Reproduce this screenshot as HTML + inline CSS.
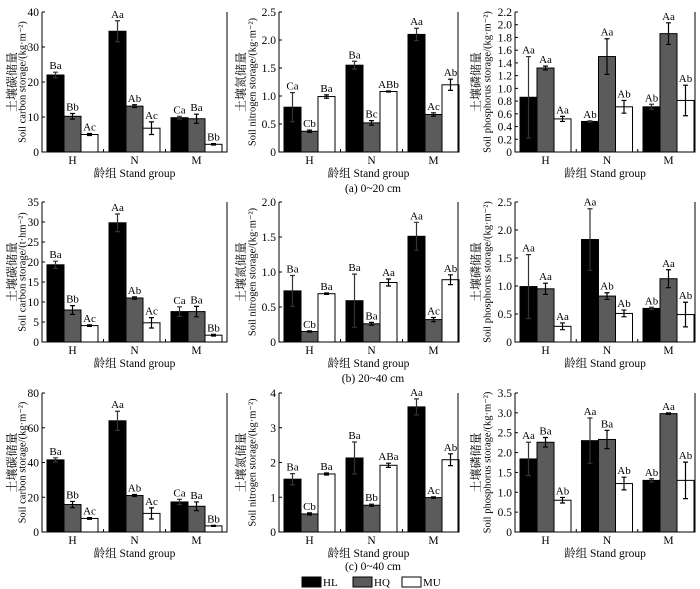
<!DOCTYPE html>
<html><head><meta charset="utf-8">
<style>
html,body{margin:0;padding:0;background:#fff;}
svg{display:block;font-family:"Liberation Serif","Noto Serif CJK SC",serif;}
</style></head>
<body>
<svg id="chart" width="700" height="589" viewBox="0 0 700 589" xmlns="http://www.w3.org/2000/svg"></svg>
<script>
const categories=["H","N","M"];
const seriesNames=["HL","HQ","MU"];
// Row a: 0~20 cm
const aC_HL=[22,34.5,9.8], aC_HLerr=[0.8,3,0.4];
const aC_HQ=[10.2,13.1,9.5], aC_HQerr=[0.8,0.4,1.3];
const aC_MU=[5,6.8,2.2], aC_MUerr=[0.3,1.8,0.2];
const aC_lab=[["Ba","Aa","Ca"],["Bb","Ab","Ba"],["Ac","Ac","Bb"]];
const aC_ticks=["0","10","20","30","40"];
const aN_HL=[0.8,1.55,2.1], aN_HLerr=[0.26,0.07,0.11];
const aN_HQ=[0.37,0.52,0.67], aN_HQerr=[0.02,0.04,0.03];
const aN_MU=[0.99,1.08,1.2], aN_MUerr=[0.03,0.01,0.1];
const aN_lab=[["Ca","Ba","Aa"],["Cb","Bc","Ac"],["Ba","ABb","Ab"]];
const aN_ticks=["0","0.5","1.0","1.5","2.0","2.5"];
const aP_HL=[0.86,0.48,0.71], aP_HLerr=[0.64,0.01,0.04];
const aP_HQ=[1.32,1.5,1.86], aP_HQerr=[0.03,0.28,0.17];
const aP_MU=[0.52,0.71,0.81], aP_MUerr=[0.04,0.1,0.24];
const aP_lab=[["Aa","Ab","Ab"],["Aa","Aa","Aa"],["Aa","Ab","Ab"]];
const aP_ticks=["0","0.2","0.4","0.6","0.8","1.0","1.2","1.4","1.6","1.8","2.0","2.2"];
// Row b: 20~40 cm
const bC_HL=[19.3,29.8,7.6], bC_HLerr=[0.9,2.2,1.2];
const bC_HQ=[8,11,7.6], bC_HQerr=[1.1,0.3,1.3];
const bC_MU=[4.1,4.8,1.7], bC_MUerr=[0.2,1.3,0.2];
const bC_lab=[["Ba","Aa","Ca"],["Bb","Ab","Ba"],["Ac","Ac","Bb"]];
const bC_ticks=["0","5","10","15","20","25","30","35"];
const bN_HL=[0.73,0.59,1.51], bN_HLerr=[0.22,0.38,0.2];
const bN_HQ=[0.15,0.26,0.32], bN_HQerr=[0.01,0.02,0.03];
const bN_MU=[0.69,0.85,0.89], bN_MUerr=[0.01,0.05,0.07];
const bN_lab=[["Ba","Ba","Aa"],["Cb","Ba","Ac"],["Ba","Aa","Ab"]];
const bN_ticks=["0","0.5","1.0","1.5","2.0"];
const bP_HL=[0.99,1.83,0.6], bP_HLerr=[0.57,0.55,0.02];
const bP_HQ=[0.95,0.82,1.13], bP_HQerr=[0.1,0.06,0.16];
const bP_MU=[0.28,0.51,0.49], bP_MUerr=[0.06,0.06,0.22];
const bP_lab=[["Aa","Aa","Ab"],["Aa","Ab","Aa"],["Aa","Ab","Ab"]];
const bP_ticks=["0","0.5","1.0","1.5","2.0","2.5"];
// Row c: 0~40 cm
const cC_HL=[41.5,64,17.3], cC_HLerr=[1.2,5.5,1.5];
const cC_HQ=[15.8,21,14.8], cC_HQerr=[1.8,0.6,2.5];
const cC_MU=[7.8,10.7,3.5], cC_MUerr=[0.5,3.2,0.3];
const cC_lab=[["Ba","Aa","Ca"],["Bb","Ab","Ba"],["Ac","Ac","Bb"]];
const cC_ticks=["0","20","40","60","80"];
const cN_HL=[1.52,2.13,3.6], cN_HLerr=[0.16,0.46,0.23];
const cN_HQ=[0.52,0.77,0.99], cN_HQerr=[0.03,0.03,0.02];
const cN_MU=[1.67,1.92,2.08], cN_MUerr=[0.03,0.06,0.17];
const cN_lab=[["Ba","Ba","Aa"],["Cb","Bb","Ac"],["Ba","ABa","Ab"]];
const cN_ticks=["0","1","2","3","4"];
const cP_HL=[1.84,2.3,1.3], cP_HLerr=[0.42,0.57,0.04];
const cP_HQ=[2.26,2.33,2.98], cP_HQerr=[0.12,0.23,0.02];
const cP_MU=[0.8,1.22,1.3], cP_MUerr=[0.07,0.16,0.46];
const cP_lab=[["Aa","Aa","Ab"],["Ba","Ba","Aa"],["Ab","Ab","Ab"]];
const cP_ticks=["0","0.5","1.0","1.5","2.0","2.5","3.0","3.5"];

const NS="http://www.w3.org/2000/svg";
const svg=document.getElementById('chart');
function mk(tag,attrs,parent,text){const e=document.createElementNS(NS,tag);for(const k in attrs)e.setAttribute(k,attrs[k]);if(text!==undefined)e.textContent=text;(parent||svg).appendChild(e);return e;}

const colors=["#000","#5b5b5b","#fff"];
const cols=[{ax:42,right:227,gap:62,zh:12,en:23,cn:"土壤碳储量"},{ax:279,right:458,gap:62,zh:241,en:253,cn:"土壤氮储量"},{ax:515,right:695,gap:61.5,zh:476,en:488,cn:"土壤磷储量"}];
const rows=[{top:12,bot:152},{top:202,bot:342},{top:393,bot:532}];
const panels=[
 [0,0,[aC_HL,aC_HQ,aC_MU],[aC_HLerr,aC_HQerr,aC_MUerr],aC_lab,aC_ticks,"Soil carbon storage/(kg·m⁻²)","carbon"],
 [0,1,[aN_HL,aN_HQ,aN_MU],[aN_HLerr,aN_HQerr,aN_MUerr],aN_lab,aN_ticks,"Soil nitrogen storage/(kg·m⁻²)","nitrogen"],
 [0,2,[aP_HL,aP_HQ,aP_MU],[aP_HLerr,aP_HQerr,aP_MUerr],aP_lab,aP_ticks,"Soil phosphorus storage/(kg·m⁻²)","phosphorus"],
 [1,0,[bC_HL,bC_HQ,bC_MU],[bC_HLerr,bC_HQerr,bC_MUerr],bC_lab,bC_ticks,"Soil carbon storage/(t·hm⁻²)","carbon"],
 [1,1,[bN_HL,bN_HQ,bN_MU],[bN_HLerr,bN_HQerr,bN_MUerr],bN_lab,bN_ticks,"Soil nitrogen storage/(kg·m⁻²)","nitrogen"],
 [1,2,[bP_HL,bP_HQ,bP_MU],[bP_HLerr,bP_HQerr,bP_MUerr],bP_lab,bP_ticks,"Soil phosphorus storage/(kg·m⁻²)","phosphorus"],
 [2,0,[cC_HL,cC_HQ,cC_MU],[cC_HLerr,cC_HQerr,cC_MUerr],cC_lab,cC_ticks,"Soil carbon storage/(kg·m⁻²)","carbon"],
 [2,1,[cN_HL,cN_HQ,cN_MU],[cN_HLerr,cN_HQerr,cN_MUerr],cN_lab,cN_ticks,"Soil nitrogen storage/(kg·m⁻²)","nitrogen"],
 [2,2,[cP_HL,cP_HQ,cP_MU],[cP_HLerr,cP_HQerr,cP_MUerr],cP_lab,cP_ticks,"Soil phosphorus storage/(kg·m⁻²)","phosphorus"]
];
const rowNames=["a","b","c"];
panels.forEach(p=>{
  const [r,c,vals,errs,labs,ticks,enTitle,kind]=p;
  const col=cols[c],row=rows[r];
  const g=mk('g',{});
  
  
  const ax=col.ax,top=row.top,bot=row.bot,right=col.right;
  const tmax=parseFloat(ticks[ticks.length-1]);
  const y=v=>bot-(v/tmax)*(bot-top);
  const bw=17,gap=col.gap;
  const bx=(gi,si)=>ax+5+gi*gap+si*bw;
  for(let s=0;s<3;s++){for(let i=0;i<3;i++){
    const v=vals[s][i],e=errs[s][i],x=bx(i,s);
    const b=mk('rect',{x:x,y:y(v),width:bw,height:bot-y(v),fill:colors[s],stroke:"#000","stroke-width":1},g);
    
    
    const cx=x+bw/2;
    const eb=mk('path',{d:`M${cx},${y(v-e)}V${y(v+e)}M${cx-2.5},${y(v+e)}H${cx+2.5}M${cx-2.5},${y(v-e)}H${cx+2.5}`,stroke:s==0?"#333":"#000","stroke-width":1.2,fill:"none"},g);
    
    
    const t=mk('text',{x:cx,y:y(v+e)-3,"text-anchor":"middle","font-size":11},g,labs[s][i]);
    
    
  }}
  const axl=mk('path',{d:`M${ax},${top}V${bot}H${right}V${top}`,stroke:"#000","stroke-width":1,fill:"none"},g);
  
  
  ticks.forEach(t=>{
    const yy=y(parseFloat(t));
    mk('line',{x1:ax,x2:ax+3,y1:yy,y2:yy,stroke:"#000"},g);
    const tl=mk('text',{x:ax-3,y:yy+4,"text-anchor":"end","font-size":11.5},g,t);
    
    
  });
  categories.forEach((cat,i)=>{
    const cx=bx(i,1)+bw/2;
    const cl=mk('text',{x:cx,y:bot+12,"text-anchor":"middle","font-size":11.5},g,cat);
    
    
    if(i<2){const xx=ax+5+3*bw+(gap-3*bw)/2+i*gap;mk('line',{x1:xx,x2:xx,y1:bot,y2:bot-3,stroke:"#000"},g);}
  });
  const midx=(ax+right)/2;
  const xt=mk('text',{x:midx,y:bot+25,"text-anchor":"middle","font-size":11.5},g,"龄组 Stand group");
  
  
  const midy=(top+bot)/2;
  const yz=mk('text',{x:col.zh,y:midy,"text-anchor":"middle","font-size":12,transform:`rotate(-90 ${col.zh} ${midy})`,"dominant-baseline":"central"},g,col.cn);
  
  
  const ye=mk('text',{x:col.en,y:midy,"text-anchor":"middle","font-size":10.5,transform:`rotate(-90 ${col.en} ${midy})`,"dominant-baseline":"central"},g,enTitle);
  
  
});
const caps=[["(a) 0~20 cm",192],["(b) 20~40 cm",382],["(c) 0~40 cm",570]];
caps.forEach((c,i)=>{
  const t=mk('text',{x:373,y:c[1],"text-anchor":"middle","font-size":11.5},svg,c[0]);
  
  
});
const lg=mk('g',{});


const lx=[302,353,402];
seriesNames.forEach((n,i)=>{
  const r=mk('rect',{x:lx[i],y:577,width:19,height:10,fill:colors[i],stroke:"#000"},lg);
  
  
  const t=mk('text',{x:lx[i]+21,y:586,"font-size":11},lg,n);
  
  
});
</script>
</body></html>
